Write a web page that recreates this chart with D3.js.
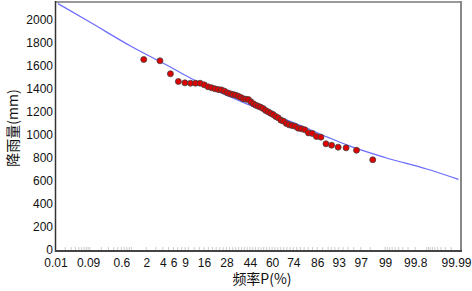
<!DOCTYPE html>
<html>
<head>
<meta charset="utf-8">
<script src="https://cdn.jsdelivr.net/npm/d3@7"></script>
<style>
  body { margin: 0; background: #fff; }
  text { font-family: "Liberation Sans", Arial, sans-serif; }
  .cjk { font-family: "Noto Sans CJK SC", sans-serif; }
</style>
</head>
<body>
<div id="chart"></div>
<script>
// frequency tick labels (%)
const xTicks = [0.01, 0.09, 0.6, 2, 4, 6, 9, 16, 28, 44, 60, 74, 86, 93, 97, 99, 99.8, 99.99];
const yTicks = d3.range(0, 2001, 200);

// observed rainfall, sorted descending (mm)
const rain = [1652, 1641, 1528, 1461, 1449, 1446, 1446, 1446, 1432, 1415,
              1406, 1397, 1391, 1388, 1377, 1362, 1354, 1348, 1342, 1333,
              1322, 1310, 1307, 1304, 1284, 1267, 1255, 1246, 1237, 1226,
              1209, 1197, 1185, 1174, 1157, 1145, 1125, 1116, 1096, 1084,
              1078, 1072, 1055, 1049, 1041, 1014, 1009, 983, 977, 919,
              907, 890, 884, 863, 780];

// fitted frequency curve
const curveP = [0.012, 0.1, 1, 5, 10, 20, 50, 80, 90, 95, 99, 99.9, 99.988];
const curveV = [2138, 1978, 1765, 1595, 1500, 1395, 1225, 1065, 975, 905, 800, 700, 610];

// inverse normal cdf (Acklam)
function probit(p) {
  const a = [-39.69683028665376, 220.9460984245205, -275.9285104469687, 138.3577518672690, -30.66479806614716, 2.506628277459239];
  const b = [-54.47609879822406, 161.5858368580409, -155.6989798598866, 66.80131188771972, -13.28068155288572];
  const c = [-0.007784894002430293, -0.3223964580411365, -2.400758277161838, -2.549732539343734, 4.374664141464968, 2.938163982698783];
  const d = [0.007784695709041462, 0.3224671290700398, 2.445134137142996, 3.754408661907416];
  const pl = 0.02425;
  let q, r;
  if (p < pl) {
    q = Math.sqrt(-2 * Math.log(p));
    return (((((c[0]*q+c[1])*q+c[2])*q+c[3])*q+c[4])*q+c[5]) / ((((d[0]*q+d[1])*q+d[2])*q+d[3])*q+1);
  } else if (p <= 1 - pl) {
    q = p - 0.5; r = q * q;
    return (((((a[0]*r+a[1])*r+a[2])*r+a[3])*r+a[4])*r+a[5])*q / (((((b[0]*r+b[1])*r+b[2])*r+b[3])*r+b[4])*r+1);
  } else {
    q = Math.sqrt(-2 * Math.log(1 - p));
    return -(((((c[0]*q+c[1])*q+c[2])*q+c[3])*q+c[4])*q+c[5]) / ((((d[0]*q+d[1])*q+d[2])*q+d[3])*q+1);
  }
}

const W = 472, H = 291;
const zMax = -probit(0.0001);

const x = d3.scaleLinear().domain([-zMax, zMax]).range([55.5, 461]);
const y = d3.scaleLinear().domain([0, 2000]).range([249.5, 19.5]);
const px = p => x(probit(p / 100));

const svg = d3.select("#chart").append("svg")
  .attr("width", W)
  .attr("height", H);

// minor ticks on the probability axis
let minor = [];
for (let i = 1; i <= 9; i++) minor.push(i * 0.01);
for (let i = 1; i <= 9; i++) minor.push(i * 0.1);
for (let i = 1; i <= 9; i++) minor.push(i);
for (let i = 10; i <= 90; i += 2) minor.push(i);
for (let i = 91; i <= 99; i++) minor.push(i);
for (let i = 1; i <= 9; i++) minor.push(99 + i * 0.1);
for (let i = 1; i <= 9; i++) minor.push(99.9 + i * 0.01);

svg.append("g")
  .selectAll("line")
  .data(minor)
  .join("line")
  .attr("x1", d => px(d)).attr("x2", d => px(d))
  .attr("y1", 250).attr("y2", 247)
  .attr("stroke", "#ccc")
  .attr("stroke-width", 1);

// frame
svg.append("line").attr("x1", 55).attr("x2", 462).attr("y1", 2).attr("y2", 2)
  .attr("stroke", "#999").attr("stroke-width", 2);
svg.append("line").attr("x1", 461).attr("x2", 461).attr("y1", 1).attr("y2", 252)
  .attr("stroke", "#888").attr("stroke-width", 2);
svg.append("line").attr("x1", 55.5).attr("x2", 55.5).attr("y1", 1).attr("y2", 252)
  .attr("stroke", "#333").attr("stroke-width", 1.5);
svg.append("line").attr("x1", 55).attr("x2", 462).attr("y1", 251).attr("y2", 251)
  .attr("stroke", "#444").attr("stroke-width", 2);

// y axis labels
const yAxis = svg.append("g")
  .attr("transform", "translate(53,0)")
  .call(d3.axisLeft(y).tickValues(yTicks).tickSize(0).tickPadding(0).tickFormat(d3.format("d")));
yAxis.select(".domain").remove();
yAxis.selectAll("text").attr("font-size", 12).attr("fill", "#111")
  .attr("font-family", "Liberation Sans, Arial, sans-serif");

// x axis labels
const xAxis = svg.append("g")
  .attr("transform", "translate(0,258)")
  .call(d3.axisBottom(x).tickValues(xTicks.map(p => probit(p / 100)))
    .tickSize(0).tickPadding(0).tickFormat((d, i) => xTicks[i]));
xAxis.select(".domain").remove();
xAxis.selectAll("text").attr("font-size", 12).attr("fill", "#111")
  .attr("font-family", "Liberation Sans, Arial, sans-serif");
// keep the last label inside the picture
xAxis.selectAll(".tick:last-of-type text").attr("dx", -5);

// fitted curve
const line = d3.line()
  .x((d, i) => px(curveP[i]))
  .y(d => y(d))
  .curve(d3.curveMonotoneX);

svg.append("path")
  .datum(curveV)
  .attr("d", line)
  .attr("fill", "none")
  .attr("stroke", "#6b6bff")
  .attr("stroke-width", 1.2);

// empirical points, P = m/(n+1)
const n = rain.length;
svg.append("g")
  .selectAll("circle")
  .data(rain)
  .join("circle")
  .attr("cx", (d, i) => px((i + 1) / (n + 1) * 100))
  .attr("cy", d => y(d))
  .attr("r", 3)
  .attr("fill", "#e00000")
  .attr("stroke", "#444")
  .attr("stroke-width", 0.8);

// axis titles
svg.append("text")
  .attr("class", "cjk")
  .attr("transform", "translate(18,128) rotate(-90)")
  .attr("text-anchor", "middle")
  .attr("font-size", 14)
  .attr("fill", "#111")
  .text("降雨量(mm)");

svg.append("text")
  .attr("class", "cjk")
  .attr("x", 262)
  .attr("y", 284)
  .attr("text-anchor", "middle")
  .attr("font-size", 14)
  .attr("fill", "#111")
  .text("频率P(%)");
</script>
</body>
</html>
